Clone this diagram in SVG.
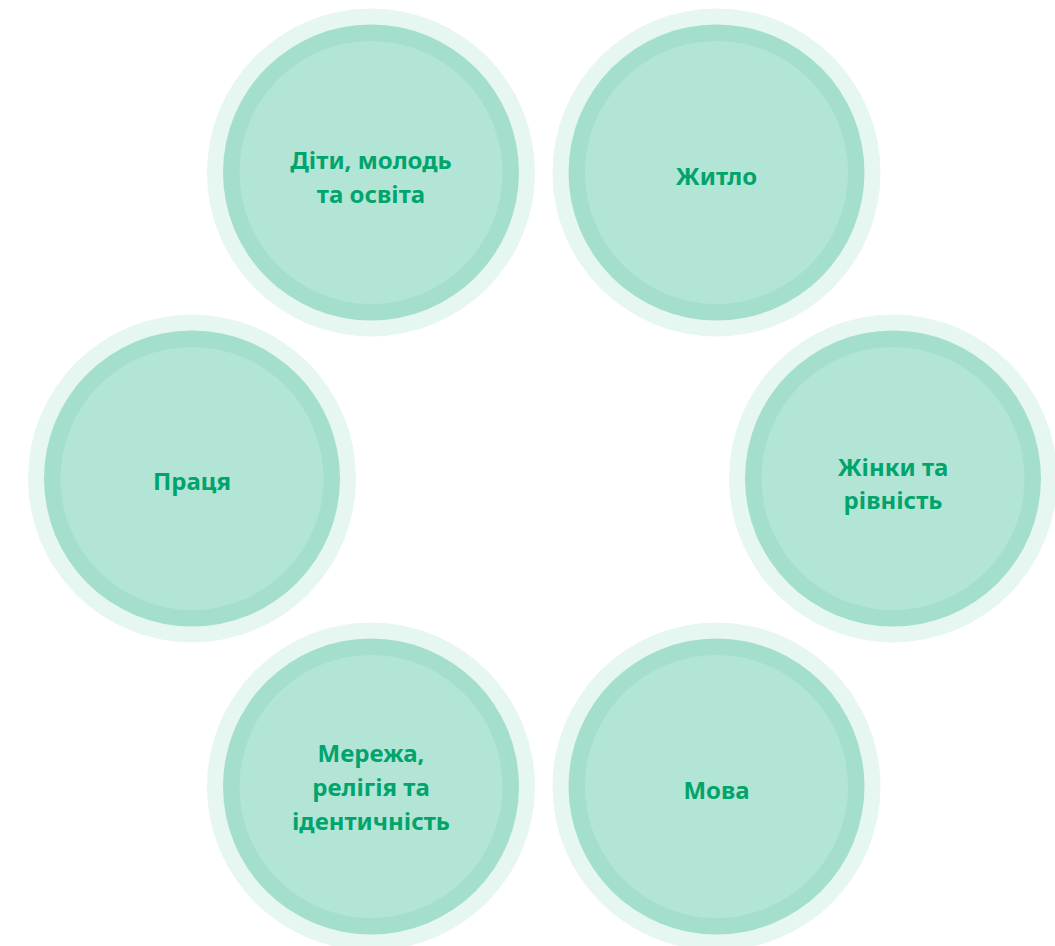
<svg xmlns="http://www.w3.org/2000/svg" width="1055" height="946" viewBox="0 0 1055 946">
<style>
.halo{fill:#E6F6F0}
.ring{fill:#A4DFCD}
.core{fill:#B3E5D6}
.lbl{font-family:"Noto Sans","Liberation Sans",sans-serif;font-weight:700;font-size:24px;fill:#00A46C;text-anchor:middle}
</style>
<defs>
<g id="bubble">
<circle class="halo" r="164"/>
<circle class="ring" r="148"/>
<circle class="core" r="131.5"/>
</g>
</defs>
<rect width="1055" height="946" fill="#FFFFFF"/>
<g id="connectors"/>
<g id="node-dity">
<use href="#bubble" x="371" y="172.5"/>
<text class="lbl" x="371" y="169">Діти, молодь</text>
<text class="lbl" x="371" y="203">та освіта</text>
</g>
<g id="node-zhytlo">
<use href="#bubble" x="716.5" y="172.5"/>
<text class="lbl" x="716.5" y="184.5">Житло</text>
</g>
<g id="node-pratsia">
<use href="#bubble" x="192" y="478.5"/>
<text class="lbl" x="192" y="489.5">Праця</text>
</g>
<g id="node-zhinky">
<use href="#bubble" x="893" y="478.5"/>
<text class="lbl" x="893" y="475.5">Жінки та</text>
<text class="lbl" x="893" y="509">рівність</text>
</g>
<g id="node-merezha">
<use href="#bubble" x="371" y="786.5"/>
<text class="lbl" x="371" y="762">Мережа,</text>
<text class="lbl" x="371" y="796">релігія та</text>
<text class="lbl" x="371" y="830">ідентичність</text>
</g>
<g id="node-mova">
<use href="#bubble" x="716.5" y="786.5"/>
<text class="lbl" x="716.5" y="798.5">Мова</text>
</g>
</svg>
